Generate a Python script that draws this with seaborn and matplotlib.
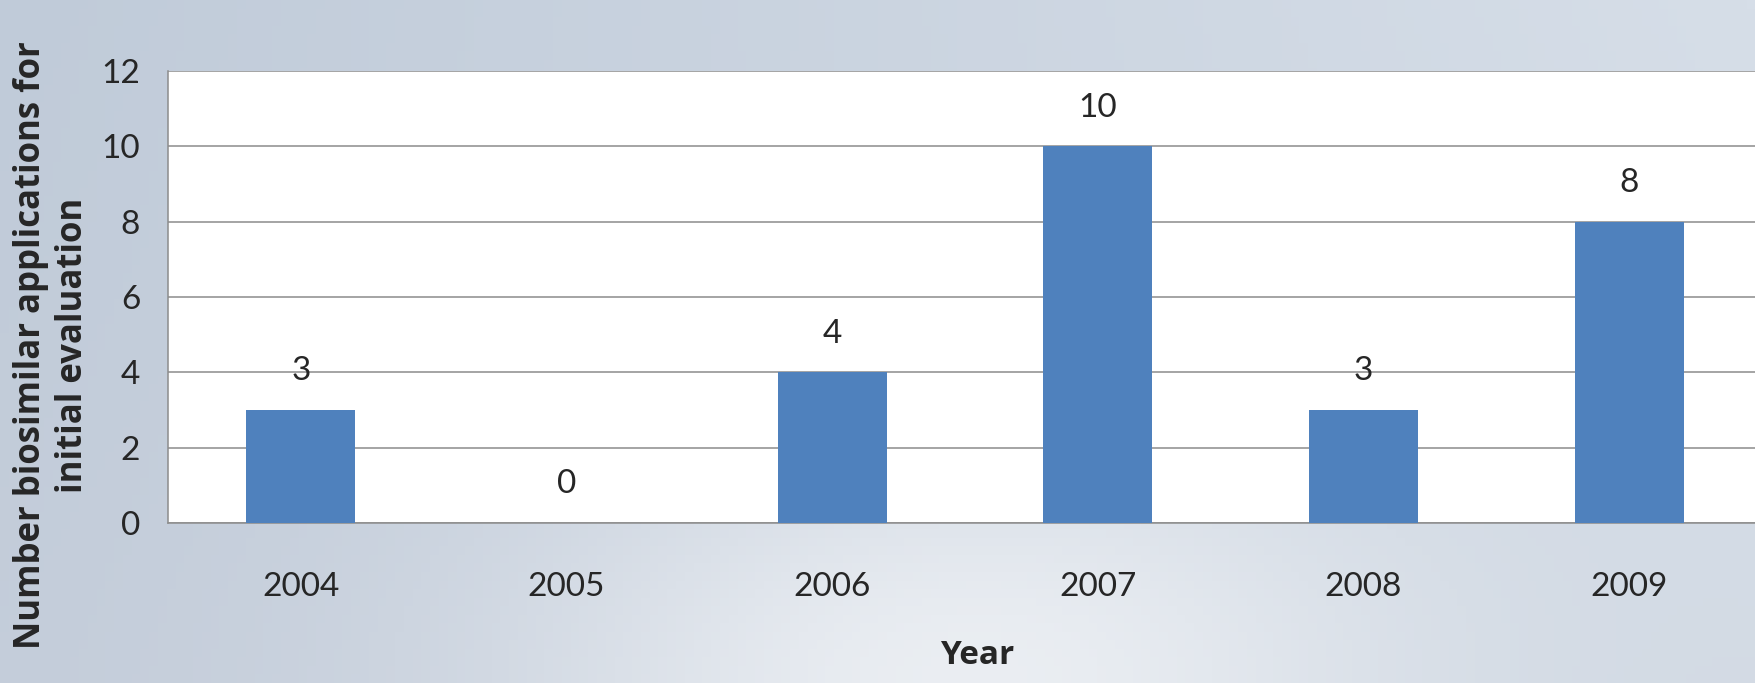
import numpy as np
import pandas as pd
import matplotlib
matplotlib.use("Agg")
import matplotlib.pyplot as plt
import seaborn as sns

# values
years = ["2004", "2005", "2006", "2007", "2008", "2009"]
counts = [3, 0, 4, 10, 3, 8]
y_ticks = [0, 2, 4, 6, 8, 10, 12]

df = pd.DataFrame({"Year": years, "Count": counts})

sns.set_style("white")
plt.rcParams["font.family"] = ["Lato", "DejaVu Sans"]

W, H = 1756, 683
fig = plt.figure(figsize=(W / 100, H / 100), dpi=100)

# soft blue-grey backdrop, lighter towards the bottom middle
bg = fig.add_axes([0, 0, 1, 1], zorder=-10)
gx, gy = np.meshgrid(np.linspace(0, 1, 200), np.linspace(0, 1, 80))
tl = np.array([192, 203, 217]) / 255
tr = np.array([214, 222, 232]) / 255
bl = np.array([196, 205, 218]) / 255
br = np.array([210, 218, 228]) / 255
top = tl[None, None, :] * (1 - gx[..., None]) + tr[None, None, :] * gx[..., None]
bot = bl[None, None, :] * (1 - gx[..., None]) + br[None, None, :] * gx[..., None]
img = top * (1 - gy[..., None]) + bot * gy[..., None]
glow = np.exp(-(((gx - 0.55) / 0.25) ** 2 + ((gy - 1.0) / 0.35) ** 2))
img = img + (1 - img) * 0.6 * glow[..., None]
bg.imshow(np.clip(img, 0, 1), aspect="auto", extent=[0, 1, 0, 1], origin="upper")
bg.axis("off")

left, right, top_px, bottom_px = 168, 1762, 71, 523
ax = fig.add_axes([left / W, 1 - bottom_px / H, (right - left) / W, (bottom_px - top_px) / H])
ax.set_facecolor("white")

sns.barplot(data=df, x="Year", y="Count", color="#4F81BD", saturation=1,
            width=0.41, linewidth=0, edgecolor="none", ax=ax, zorder=3)

ax.set_ylim(0, 12)
ax.set_xlim(-0.5, 5.5)
ax.set_yticks(y_ticks)
ax.yaxis.grid(True, color="#8c8c8c", linewidth=1.1, zorder=0)
ax.set_axisbelow(True)

for side in ["top", "right"]:
    ax.spines[side].set_visible(False)
for side in ["left", "bottom"]:
    ax.spines[side].set_color("#8c8c8c")
    ax.spines[side].set_linewidth(1.1)

ax.tick_params(axis="y", length=7, width=1.1, color="#8c8c8c", pad=13, labelsize=24)
ax.tick_params(axis="x", length=0, pad=35, labelsize=24)

for c in ax.containers:
    ax.bar_label(c, labels=[str(v) for v in counts], padding=17, fontsize=24)

label_font = ["Open Sans", "DejaVu Sans"]
ax.set_xlabel("Year", fontsize=24, fontweight="bold", family=label_font)
ax.xaxis.set_label_coords((977 - left) / (right - left), (bottom_px - 655) / (bottom_px - top_px))
ax.xaxis.label.set_va("center")

ax.set_ylabel("Number biosimilar applications for\ninitial evaluation",
              fontsize=25, fontweight="bold", family=label_font, linespacing=1.2)
ax.yaxis.set_label_coords((52 - left) / (right - left), (bottom_px - 345) / (bottom_px - top_px))
ax.yaxis.label.set_va("center")
ax.yaxis.label.set_ha("center")

fig.savefig("out.png", dpi=100)
